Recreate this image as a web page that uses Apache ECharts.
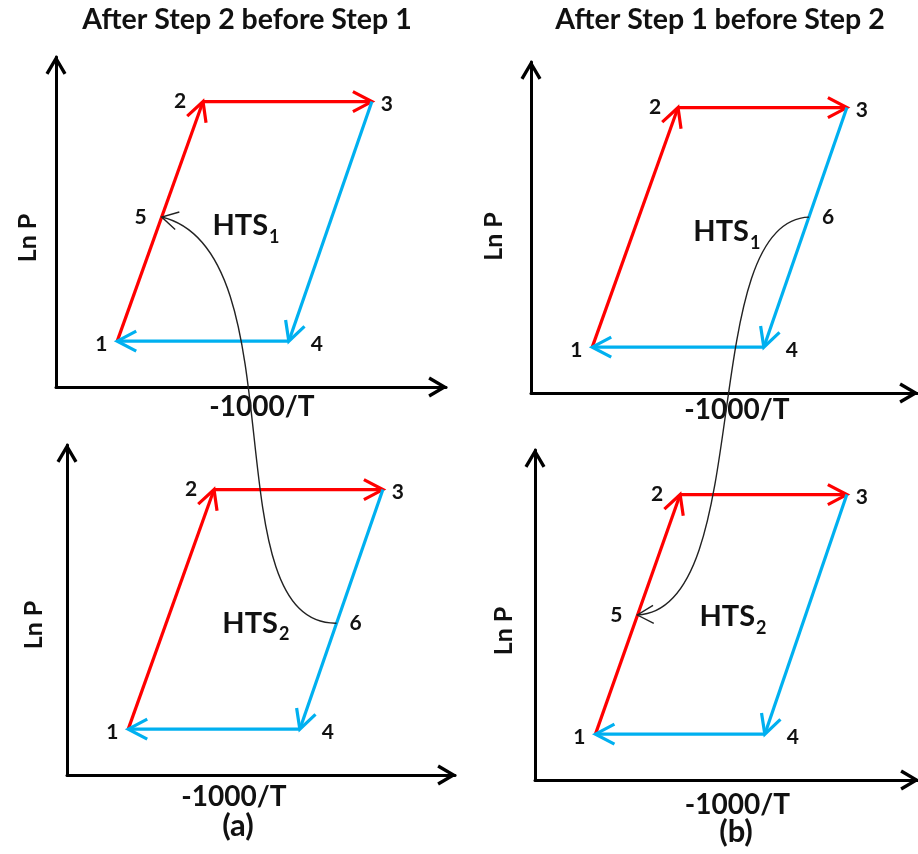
<!DOCTYPE html>
<html><head><meta charset="utf-8">
<script src="https://cdn.jsdelivr.net/npm/echarts@6/dist/echarts.min.js"></script>
<style>html,body{margin:0;padding:0;background:#fff}#c{width:918px;height:854px}</style>
</head><body><div id="c"></div>
<script>
// ---------------- data (schematic units) ----------------
const panelTitles = ['After Step 2 before Step 1', 'After Step 1 before Step 2'];
const panelCaptions = ['(a)', '(b)'];
const xAxisName = '-1000/T';
const yAxisName = 'Ln P';

// states 1..4 of the cycle (same in every panel)
const stateNames = ['1', '2', '3', '4'];
const stateX = [1.57, 3.77, 8.10, 5.97];
const stateY = [1.39, 8.65, 8.65, 1.39];

// cycle steps: from state index -> to state index, and kind
const stepFrom = [0, 1, 2, 3];
const stepTo = [1, 2, 3, 0];
const stepKind = ['heat', 'heat', 'cool', 'cool'];

// panel order: 0 = top-left, 1 = top-right, 2 = bottom-left, 3 = bottom-right
const systemName = 'HTS';
const systemSubs = ['1', '1', '2', '2'];
const systemX = [4.00, 4.15, 3.97, 4.26];
const systemY = [4.88, 4.88, 4.60, 4.94];

// extra state point per panel (5 or 6)
const extraNames = ['5', '6', '6', '5'];
const extraX = [2.71, 7.13, 6.91, 2.66];
const extraY = [5.15, 5.33, 4.60, 5.00];

// hydrogen transfer curves: start, two control points, end (each in a panel's units)
const transferPanels = [[2, 2, 0, 0], [1, 1, 3, 3]];
const transferX = [[6.91, 3.67, 6.26, 2.71], [7.13, 4.21, 5.77, 2.66]];
const transferY = [[4.60, 4.55, 4.15, 5.15], [5.33, 5.24, 5.15, 5.00]];

// ---------------- styles / layout ----------------
const FONT = 'Lato, "Open Sans", sans-serif';
const INK = '#111';
const RED = '#FF0000', BLUE = '#00B0F0';
const kindColor = { heat: RED, cool: BLUE };
const CHEVRON = 'path://M0,0 L10,17 L7.24,18.62 L0,6.31 L-7.24,18.62 L-10,17 Z';
const layout = [
  { left: 56, top: 57, width: 390, height: 330 },
  { left: 531, top: 62, width: 386, height: 331 },
  { left: 67, top: 445, width: 388, height: 330 },
  { left: 535, top: 450, width: 388, height: 330 }
];
const nameStyle = [
  { xGap: 6, xShift: 11, yGap: 16, yShift: 16 },
  { xGap: 3, xShift: 13, yGap: 25, yShift: 9 },
  { xGap: 8, xShift: -27, yGap: 21, yShift: 15 },
  { xGap: 11, xShift: 11, yGap: 19, yShift: 16 }
];
const labelOffset = { '1': [-16, 3], '2': [-23, 0], '3': [15, 3], '4': [28, 3], '5': [-21, 0], '6': [19, 0] };

const chart = echarts.init(document.getElementById('c'), null, { renderer: 'canvas', width: 918, height: 854 });

function chevronPoints(tip, dir, back, half) {
  const nx = -dir[1], ny = dir[0];
  const bx = tip[0] - dir[0] * back, by = tip[1] - dir[1] * back;
  return [[bx + nx * half, by + ny * half], [tip[0], tip[1]], [bx - nx * half, by - ny * half]];
}

function renderStep(params, api) {
  const p0 = api.coord([api.value(0), api.value(1)]);
  const p1 = api.coord([api.value(2), api.value(3)]);
  const color = api.visual('color');
  const dx = p1[0] - p0[0], dy = p1[1] - p0[1];
  const L = Math.sqrt(dx * dx + dy * dy);
  const d = [dx / L, dy / L];
  const end = [p1[0] - d[0] * 1.5, p1[1] - d[1] * 1.5];
  return {
    type: 'group',
    children: [
      { type: 'line', shape: { x1: p0[0], y1: p0[1], x2: end[0], y2: end[1] },
        style: { stroke: color, lineWidth: 3.2, lineCap: 'butt' } },
      { type: 'polyline', shape: { points: chevronPoints(p1, d, 19, 10) },
        style: { stroke: color, fill: null, lineWidth: 3.2, lineJoin: 'miter', lineCap: 'butt' } }
    ]
  };
}

const grids = [], xAxes = [], yAxes = [], series = [];
layout.forEach((l, k) => {
  const ns = nameStyle[k];
  grids.push({ left: l.left, top: l.top, width: l.width, height: l.height });
  const axisLine = { show: true, onZero: false, lineStyle: { color: '#000', width: 3 },
    symbol: ['none', CHEVRON], symbolSize: [21, 19.5], symbolOffset: [0, -8] };
  xAxes.push({
    gridIndex: k, type: 'value', min: 0, max: 10 * l.width / 390,
    axisLine, axisTick: { show: false }, axisLabel: { show: false }, splitLine: { show: false },
    name: xAxisName, nameLocation: 'middle', nameGap: ns.xGap,
    nameTextStyle: { fontFamily: FONT, fontSize: 28, fontWeight: 'bold', color: INK,
      padding: ns.xShift >= 0 ? [0, 0, 0, 2 * ns.xShift] : [0, -2 * ns.xShift, 0, 0] }
  });
  yAxes.push({
    gridIndex: k, type: 'value', min: 0, max: 10 * l.height / 330,
    axisLine, axisTick: { show: false }, axisLabel: { show: false }, splitLine: { show: false },
    name: yAxisName, nameLocation: 'middle', nameGap: ns.yGap,
    nameTextStyle: { fontFamily: FONT, fontSize: 25, fontWeight: 'bold', color: INK,
      padding: [0, 2 * ns.yShift, 0, 0] }
  });

  series.push({
    type: 'custom', xAxisIndex: k, yAxisIndex: k, silent: true, clip: false, z: 3,
    renderItem: renderStep,
    data: stepFrom.map((f, i) => ({
      value: [stateX[f], stateY[f], stateX[stepTo[i]], stateY[stepTo[i]]],
      itemStyle: { color: kindColor[stepKind[i]] }
    }))
  });

  const pts = stateNames.map((n, i) => ({ name: n, value: [stateX[i], stateY[i]], label: { offset: labelOffset[n] } }));
  pts.push({ name: extraNames[k], value: [extraX[k], extraY[k]], label: { offset: labelOffset[extraNames[k]] } });
  series.push({
    type: 'scatter', xAxisIndex: k, yAxisIndex: k, silent: true, symbolSize: 1, z: 4,
    itemStyle: { color: 'rgba(0,0,0,0)', opacity: 1 },
    emphasis: { disabled: true },
    label: { show: true, position: 'inside', formatter: '{b}', fontFamily: FONT, fontSize: 21,
      fontWeight: 'bold', color: INK, opacity: 1, textBorderWidth: 0 },
    data: pts
  });

  series.push({
    type: 'scatter', xAxisIndex: k, yAxisIndex: k, silent: true, symbolSize: 1, z: 4,
    itemStyle: { color: 'rgba(0,0,0,0)', opacity: 1 },
    emphasis: { disabled: true },
    label: { show: true, position: 'right', distance: 0, opacity: 1, textBorderWidth: 0,
      formatter: p => '{m|' + systemName + '}{s|' + systemSubs[k] + '}',
      rich: {
        m: { fontFamily: FONT, fontSize: 29, fontWeight: 'bold', color: INK },
        s: { fontFamily: FONT, fontSize: 18, fontWeight: 'bold', color: INK, padding: [22, 0, 0, 1] }
      } },
    data: [{ name: systemName, value: [systemX[k], systemY[k]] }]
  });
});

const titleStyle = { fontFamily: FONT, fontSize: 28.5, fontWeight: 'bold', color: INK };
const captionStyle = { fontFamily: FONT, fontSize: 31, fontWeight: 'bold', color: INK };
const option = {
  animation: false,
  backgroundColor: '#fff',
  title: [
    { text: panelTitles[0], left: 247, top: 5, textAlign: 'center', padding: 0, textStyle: titleStyle },
    { text: panelTitles[1], left: 720, top: 5, textAlign: 'center', padding: 0, textStyle: titleStyle },
    { text: panelCaptions[0], left: 238, top: 810, textAlign: 'center', padding: 0, textStyle: captionStyle },
    { text: panelCaptions[1], left: 736, top: 816, textAlign: 'center', padding: 0, textStyle: captionStyle }
  ],
  grid: grids, xAxis: xAxes, yAxis: yAxes, series: series
};
chart.setOption(option);

// transfer curves, placed after the grids are laid out
function renderTransfer(params, api) {
  const i = params.dataIndex;
  const P = [0, 1, 2, 3].map(j => chart.convertToPixel({ gridIndex: transferPanels[i][j] }, [transferX[i][j], transferY[i][j]]));
  const dx = P[3][0] - P[2][0], dy = P[3][1] - P[2][1];
  const L = Math.sqrt(dx * dx + dy * dy);
  const d = [dx / L, dy / L];
  return {
    type: 'group',
    children: [
      { type: 'bezierCurve', shape: { x1: P[0][0], y1: P[0][1], cpx1: P[1][0], cpy1: P[1][1], cpx2: P[2][0], cpy2: P[2][1], x2: P[3][0], y2: P[3][1] },
        style: { stroke: '#222', fill: null, lineWidth: 1.4 } },
      { type: 'polyline', shape: { points: chevronPoints(P[3], d, 16, 9) },
        style: { stroke: '#222', fill: null, lineWidth: 1.4 } }
    ]
  };
}
series.push({
  type: 'custom', coordinateSystem: 'none', silent: true, z: 5,
  renderItem: renderTransfer, data: [[0], [1]]
});
chart.setOption({ series: series });
</script>
</body></html>
